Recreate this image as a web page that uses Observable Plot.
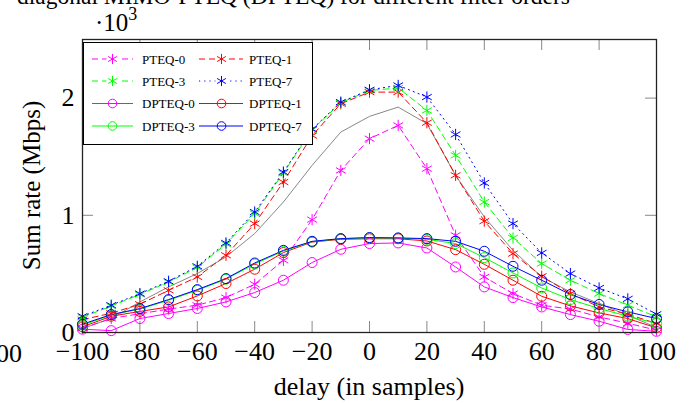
<!DOCTYPE html>
<html><head><meta charset="utf-8">
<script src="https://cdn.jsdelivr.net/npm/d3@7"></script>
<script src="https://cdn.jsdelivr.net/npm/@observablehq/plot@0.6"></script>
<style>
body{margin:0;background:#fff}
#chart{position:relative;width:690px;height:403px;overflow:hidden}
</style>
</head><body><div id="chart"></div>
<script>
// ---- data ----
const delays = [-100,-90,-80,-70,-60,-50,-40,-30,-20,-10,0,10,20,30,40,50,60,70,80,90,100];
const pteq0  = [37,120,160,200,233,298,412,616,963,1383,1654,1767,1398,829,474,332,233,200,133,79,20];
const pteq1  = [110,164,241,360,474,659,929,1284,1680,1952,2051,2051,1790,1341,950,673,480,332,218,156,77];
const pteq3  = [130,225,325,430,555,755,1015,1360,1730,1960,2065,2086,1895,1511,1113,807,588,446,332,233,133];
const pteq7  = [139,233,332,437,565,764,1028,1369,1735,1966,2071,2108,2009,1690,1276,929,679,503,380,287,156];
const dpteq0 = [28,16,119,162,205,261,341,446,597,710,759,764,721,559,389,298,218,153,96,26,10];
const dpteq1 = [48,139,180,218,312,418,540,682,772,795,800,800,781,707,582,446,309,227,167,119,39];
const dpteq3 = [62,150,200,275,360,455,585,695,775,800,808,805,795,759,639,508,380,281,205,139,77];
const dpteq7 = [71,153,204,281,366,460,593,701,778,801,810,807,801,778,693,565,446,324,239,176,119];
const reference = [34,119,261,389,503,645,844,1113,1426,1710,1844,1923,1782,1340,986,701,474,346,247,147,43];

const seriesNames = ["PTEQ-0","PTEQ-1","PTEQ-3","PTEQ-7","DPTEQ-0","DPTEQ-1","DPTEQ-3","DPTEQ-7"];
const seriesValues = [pteq0,pteq1,pteq3,pteq7,dpteq0,dpteq1,dpteq3,dpteq7];
const seriesColors = ["#ff00ff","#ff0000","#00ff00","#0000ff","#ff00ff","#ff0000","#00ff00","#0000ff"];
const seriesDash = ["6,4","6,4","6,4","1.2,4","none","none","none","none"];
const seriesSymbol = ["asterisk","asterisk","asterisk","asterisk","circle","circle","circle","circle"];
const legendOrder = ["PTEQ-0","PTEQ-1","PTEQ-3","PTEQ-7","DPTEQ-0","DPTEQ-1","DPTEQ-3","DPTEQ-7"];

const xTicks = [-100,-80,-60,-40,-20,0,20,40,60,80,100];
const yTicks = [0,1000,2000];
const titleText = "diagonal MIMO-PTEQ (DPTEQ) for different filter orders";
const xLabel = "delay (in samples)";
const yLabel = "Sum rate (Mbps)";

// ---- build ----
const FONT = "'Liberation Serif','Times New Roman',serif";
const fmt = d => d < 0 ? "\u2212" + (-d) : String(d);
const W = 690, H = 403, mL = 82, mR = 34, mT = 39, mB = 71;
const fw = W - mL - mR, fh = H - mT - mB;

const tables = seriesNames.map((name, k) => seriesValues[k].map((v, i) => ({delay: delays[i], value: v, name})));
const refTable = reference.map((v, i) => ({delay: delays[i], value: v}));

const marks = [
  Plot.tickX(xTicks, {x: d => d, stroke: "#888", strokeWidth: 1, insetTop: fh - 11}),
  Plot.tickX(xTicks, {x: d => d, stroke: "#888", strokeWidth: 1, insetBottom: fh - 11}),
  Plot.tickY(yTicks, {y: d => d, stroke: "#888", strokeWidth: 1, insetRight: fw - 11}),
  Plot.tickY(yTicks, {y: d => d, stroke: "#888", strokeWidth: 1, insetLeft: fw - 11}),
  Plot.axisX({ticks: xTicks, tickSize: 0, tickPadding: 9, fontSize: 26, fontFamily: FONT, tickFormat: fmt, label: null, fill: "#000"}),
  Plot.axisY({ticks: yTicks, tickSize: 0, tickPadding: 8, fontSize: 26, fontFamily: FONT, tickFormat: d => String(d / 1000), label: null, fill: "#000"}),
  Plot.line(refTable, {x: "delay", y: "value", stroke: "#888", strokeWidth: 1})
];
tables.forEach((t, k) => {
  marks.push(Plot.line(t, {x: "delay", y: "value", stroke: seriesColors[k], strokeWidth: 1,
    strokeDasharray: seriesDash[k] === "none" ? null : seriesDash[k]}));
});
tables.forEach((t, k) => {
  marks.push(Plot.dot(t, {x: "delay", y: "value", symbol: seriesSymbol[k], r: seriesSymbol[k] === "circle" ? 5 : 5.3,
    stroke: seriesColors[k], fill: "none", strokeWidth: 1}));
});
marks.push(Plot.frame({stroke: "#222", strokeWidth: 1.3}));

const chart = Plot.plot({
  width: W, height: H,
  marginLeft: mL, marginRight: mR, marginTop: mT, marginBottom: mB,
  x: {domain: [-100, 100]},
  y: {domain: [0, 2500]},
  style: {fontFamily: FONT, background: "#fff", overflow: "visible"},
  marks
});
document.getElementById("chart").appendChild(chart);

// ---- extra text and legend ----
const svg = d3.select(chart);
const t = svg.append("g").attr("font-family", FONT).attr("fill", "#000").attr("text-anchor", "start");
t.append("text").attr("x", 17).attr("y", 4).attr("font-size", 23.5).attr("text-anchor", "start").text(titleText);
const sc = t.append("text").attr("x", 95).attr("y", 31).attr("font-size", 25).attr("text-anchor", "start");
sc.append("tspan").text("\u00b710");
sc.append("tspan").attr("dy", -11).attr("font-size", 18).text("3");
t.append("text").attr("x", (mL + W - mR) / 2).attr("y", 395).attr("text-anchor", "middle").attr("font-size", 26).text(xLabel);
t.append("text").attr("transform", `translate(40,${mT + fh / 2}) rotate(-90)`).attr("text-anchor", "middle").attr("font-size", 25).text(yLabel);
t.append("text").attr("x", 22).attr("y", 362).attr("text-anchor", "end").attr("font-size", 26).text("100");

// legend
const lg = svg.append("g").attr("font-family", FONT).attr("text-anchor", "start");
lg.append("rect").attr("x", 83.5).attr("y", 42.5).attr("width", 229).attr("height", 102)
  .attr("fill", "#fff").attr("stroke", "#000").attr("stroke-width", 1);
const rowY = [59, 81, 103.5, 126];
const cols = [{l0: 92, l1: 133, m: 112.5, tx: 142}, {l0: 199, l1: 243, m: 221.5, tx: 249}];
legendOrder.forEach((name, i) => {
  const k = seriesNames.indexOf(name);
  const c = cols[i % 2], y = rowY[Math.floor(i / 2)];
  lg.append("line").attr("x1", c.l0).attr("x2", c.l1).attr("y1", y).attr("y2", y)
    .attr("stroke", seriesColors[k]).attr("stroke-width", 1)
    .attr("stroke-dasharray", seriesDash[k] === "none" ? null : seriesDash[k]);
  const sym = seriesSymbol[k] === "circle" ? d3.symbolCircle : d3.symbolAsterisk;
  const size = seriesSymbol[k] === "circle" ? Math.PI * 4.3 * 4.3 : Math.PI * 4.8 * 4.8;
  if (seriesDash[k] !== "none") {
    lg.append("rect").attr("x", c.m - 6).attr("y", y - 6).attr("width", 12).attr("height", 12).attr("fill", "#fff");
  }
  lg.append("path").attr("d", d3.symbol(sym, size)()).attr("transform", `translate(${c.m},${y})`)
    .attr("fill", "none").attr("stroke", seriesColors[k]).attr("stroke-width", 1);
  lg.append("text").attr("x", c.tx).attr("y", y).attr("dy", "0.35em").attr("font-size", 13)
    .attr("text-anchor", "start").attr("fill", "#000").text(name);
});
</script>
</body></html>
